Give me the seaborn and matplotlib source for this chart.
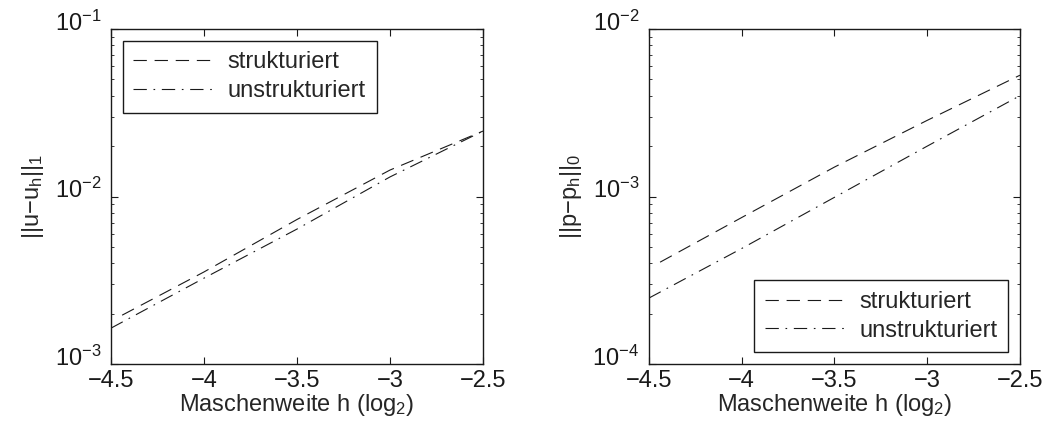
import numpy as np
import pandas as pd
import matplotlib
matplotlib.use("Agg")
import matplotlib.pyplot as plt
import matplotlib.transforms as mtransforms
import seaborn as sns

# Data (log2 of mesh width h) and errors
x_struct = [-4.44, -4.0, -3.5, -3.0, -2.5]
x_unstruct = [-4.5, -4.0, -3.5, -3.0, -2.5]

u_struct = [1.96e-3, 3.55e-3, 7.3e-3, 1.44e-2, 2.46e-2]
u_unstruct = [1.64e-3, 3.26e-3, 6.4e-3, 1.31e-2, 2.46e-2]

p_struct = [4.06e-4, 7.5e-4, 1.5e-3, 2.85e-3, 5.3e-3]
p_unstruct = [2.48e-4, 4.9e-4, 9.9e-4, 2.0e-3, 4.0e-3]

labels = ["strukturiert", "unstrukturiert"]
xticks = [-4.5, -4, -3.5, -3, -2.5]

FS = 17

sns.set_theme(style="ticks")
plt.rcParams["font.family"] = ["Liberation Sans", "DejaVu Sans"]
plt.rcParams["mathtext.default"] = "regular"
plt.rcParams["font.size"] = FS
plt.rcParams["axes.unicode_minus"] = True

fig = plt.figure(figsize=(10.43, 4.33), dpi=100)
ax1 = fig.add_axes([0.1064, 0.159, 0.3567, 0.774])
ax2 = fig.add_axes([0.6222, 0.159, 0.3557, 0.774])


def draw(ax, ys, yu, ylim, ylabel, loc):
    sns.lineplot(x=x_struct, y=ys, ax=ax, color="k", lw=0.8,
                 linestyle="--", label=labels[0])
    sns.lineplot(x=x_unstruct, y=yu, ax=ax, color="k", lw=0.8,
                 linestyle="-.", label=labels[1])
    ax.lines[0].set_dashes((12, 7))
    ax.lines[1].set_dashes((12, 6, 1.5, 6))
    ax.set_yscale("log")
    ax.set_xlim(-4.5, -2.5)
    ax.set_ylim(*ylim)
    ax.set_xticks(xticks)
    ax.set_xticklabels([("%g" % t).replace("-", "\u2212") for t in xticks])
    ax.set_xlabel(r"Maschenweite h (log$_2$)", fontsize=FS, labelpad=0)
    ax.set_ylabel(ylabel, fontsize=FS, labelpad=6)
    ax.tick_params(axis="both", which="both", direction="in", top=True,
                   right=True, colors="k", labelsize=FS)
    ax.tick_params(axis="x", pad=4)
    ax.tick_params(axis="y", pad=7)
    ax.tick_params(which="major", length=5, width=0.8)
    ax.tick_params(which="minor", length=2.5, width=0.6)
    for s in ax.spines.values():
        s.set_visible(True)
        s.set_linewidth(1.0)
        s.set_color("k")
    offset = mtransforms.ScaledTranslation(0, 6 / 72, fig.dpi_scale_trans)
    for lab in ax.get_yticklabels():
        lab.set_transform(lab.get_transform() + offset)
    leg = ax.legend(loc=loc, fancybox=False, framealpha=1, edgecolor="k",
                    handlelength=3.5, fontsize=FS, borderpad=0.45,
                    labelspacing=0.28, handletextpad=0.5,
                    borderaxespad=0.5)
    leg.get_frame().set_linewidth(1.0)
    for line in leg.get_lines():
        line.set_linewidth(0.8)


draw(ax1, u_struct, u_unstruct, (1e-3, 1e-1), r"$||u{-}u_h||_1$", "upper left")
draw(ax2, p_struct, p_unstruct, (1e-4, 1e-2), r"$||p{-}p_h||_0$", "lower right")

fig.savefig("out.png", dpi=100)
